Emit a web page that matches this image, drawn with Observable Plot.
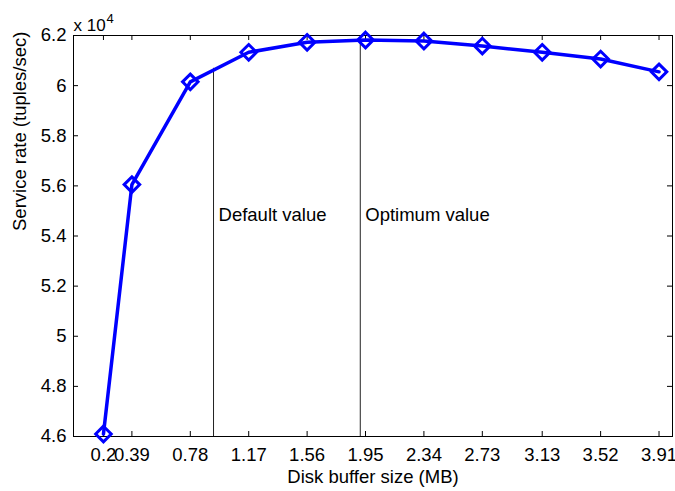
<!DOCTYPE html>
<html>
<head>
<meta charset="utf-8">
<script src="https://cdn.jsdelivr.net/npm/d3@7"></script>
<script src="https://cdn.jsdelivr.net/npm/@observablehq/plot@0.6"></script>
<style>
  html, body { margin: 0; padding: 0; background: #fff; }
</style>
</head>
<body>
<div id="chart"></div>
<script>
// Data
const bufferSizes = [0.2, 0.39, 0.78, 1.17, 1.56, 1.95, 2.34, 2.73, 3.13, 3.52, 3.91];
const serviceRate = [46100, 56050, 60150, 61330, 61730, 61820, 61780, 61580, 61330, 61060, 60550];
const xTicks = [0.2, 0.39, 0.78, 1.17, 1.56, 1.95, 2.34, 2.73, 3.13, 3.52, 3.91];
const xTickLabels = ["0.2", "0.39", "0.78", "1.17", "1.56", "1.95", "2.34", "2.73", "3.13", "3.52", "3.91"];
const yTicks = [46000, 48000, 50000, 52000, 54000, 56000, 58000, 60000, 62000];
const yTickLabels = ["4.6", "4.8", "5", "5.2", "5.4", "5.6", "5.8", "6", "6.2"];
const xDomain = [0, 4];
const yDomain = [46000, 62000];
const markerX = [0.935, 1.915];
const markerTop = [60690, 61820];
const markerLabels = ["Default value", "Optimum value"];
const markerLabelY = 54820;
const xLabel = "Disk buffer size (MB)";
const yLabel = "Service rate (tuples/sec)";
const exponentBase = "x 10";
const exponentPower = "4";

const points = bufferSizes.map((x, i) => ({x, y: serviceRate[i]}));
const markers = markerX.map((x, i) => ({x, top: markerTop[i], label: markerLabels[i]}));

const font = "'Liberation Sans', Arial, Helvetica, sans-serif";
const blue = "#0000ff";

const chart = Plot.plot({
  width: 675,
  height: 491,
  marginLeft: 73,
  marginRight: 3,
  marginTop: 35,
  marginBottom: 55,
  style: {fontFamily: font, fontSize: "18.5px", background: "#fff", color: "#000", overflow: "visible"},
  x: {domain: xDomain, axis: null},
  y: {domain: yDomain, axis: null},
  marks: [
    Plot.frame({stroke: "#000", strokeWidth: 1}),
    // inward ticks
    Plot.ruleX(xTicks, {x: d => d, y1: yDomain[0], y2: yDomain[0], insetTop: -5, stroke: "#000"}),
    Plot.ruleX(xTicks, {x: d => d, y1: yDomain[1], y2: yDomain[1], insetBottom: -5, stroke: "#000"}),
    Plot.ruleY(yTicks, {y: d => d, x1: xDomain[0], x2: xDomain[0], insetRight: -5, stroke: "#000"}),
    Plot.ruleY(yTicks, {y: d => d, x1: xDomain[1], x2: xDomain[1], insetLeft: -5, stroke: "#000"}),
    Plot.axisX({ticks: xTicks, tickSize: 0, tickPadding: 11, label: null,
      tickFormat: d => xTickLabels[xTicks.indexOf(d)], fontSize: 18.5, fill: "#000"}),
    Plot.axisY({ticks: yTicks, tickSize: 0, tickPadding: 7, label: null,
      tickFormat: d => yTickLabels[yTicks.indexOf(d)], fontSize: 18.5, fill: "#000"}),
    // annotation lines
    Plot.ruleX(markers, {x: "x", y1: yDomain[0], y2: "top", stroke: "#222", strokeWidth: 1}),
    Plot.text(markers, {x: "x", y: () => markerLabelY, text: "label", textAnchor: "start", dx: 5, fontSize: 18.5, fill: "#000"}),
    // data
    Plot.line(points, {x: "x", y: "y", stroke: blue, strokeWidth: 3.5}),
    Plot.dot(points, {x: "x", y: "y", symbol: "diamond2", r: 7, stroke: blue, strokeWidth: 3, fill: "none"}),
    // axis labels
    Plot.text([xLabel], {frameAnchor: "bottom", dy: 46, fontSize: 18.5, fill: "#000"}),
    Plot.text([yLabel], {frameAnchor: "left", dx: -53, dy: -5, rotate: -90, fontSize: 18.5, fill: "#000"}),
    Plot.text([exponentBase], {frameAnchor: "top-left", textAnchor: "start", dy: -17, fontSize: 17, fill: "#000"}),
    Plot.text([exponentPower], {frameAnchor: "top-left", textAnchor: "start", dx: 33, dy: -22, fontSize: 13, fill: "#000"})
  ]
});

document.getElementById("chart").appendChild(chart);
</script>
</body>
</html>
